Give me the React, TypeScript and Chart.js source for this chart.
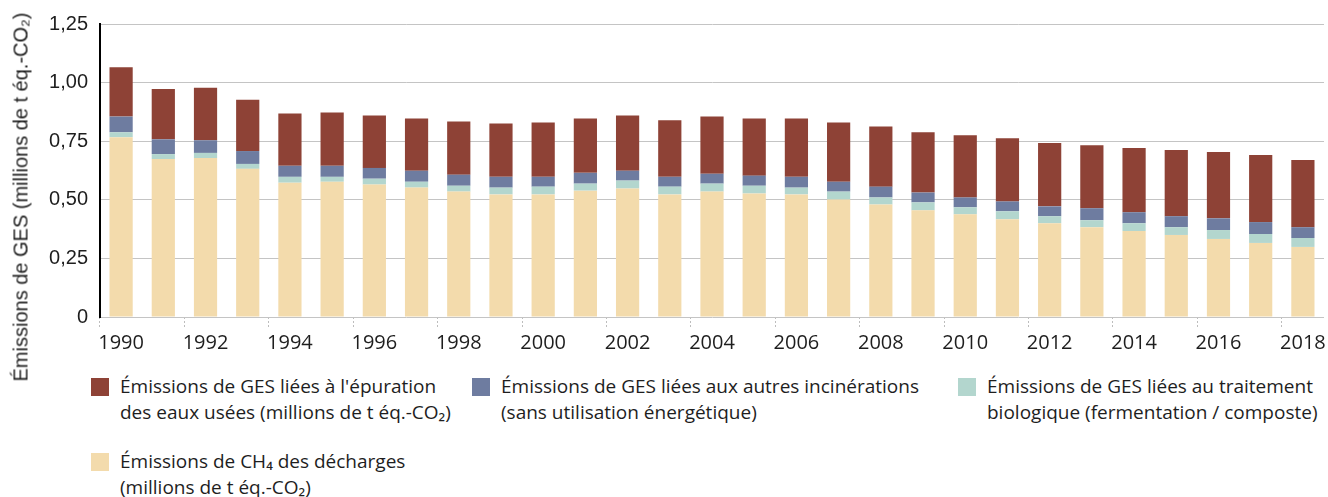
import React, { useEffect, useRef } from "react";
import { Chart, registerables } from "chart.js";

Chart.register(...registerables);

const years = [
  "1990", "1991", "1992", "1993", "1994", "1995", "1996", "1997", "1998", "1999",
  "2000", "2001", "2002", "2003", "2004", "2005", "2006", "2007", "2008", "2009",
  "2010", "2011", "2012", "2013", "2014", "2015", "2016", "2017", "2018",
];

// Émissions de CH4 des décharges
const landfillCH4 = [
  0.767, 0.674, 0.678, 0.632, 0.573, 0.577, 0.565, 0.552, 0.535, 0.523,
  0.523, 0.539, 0.548, 0.523, 0.535, 0.527, 0.523, 0.501, 0.480, 0.455,
  0.438, 0.417, 0.400, 0.383, 0.367, 0.350, 0.333, 0.316, 0.299,
];
// traitement biologique
const biological = [
  0.021, 0.021, 0.022, 0.021, 0.025, 0.021, 0.025, 0.025, 0.025, 0.029,
  0.033, 0.030, 0.034, 0.033, 0.034, 0.033, 0.029, 0.034, 0.030, 0.034,
  0.030, 0.034, 0.030, 0.030, 0.033, 0.033, 0.038, 0.038, 0.038,
];
// autres incinérations
const incineration = [
  0.067, 0.063, 0.054, 0.055, 0.047, 0.047, 0.046, 0.047, 0.047, 0.046,
  0.042, 0.046, 0.042, 0.042, 0.042, 0.043, 0.046, 0.042, 0.046, 0.042,
  0.042, 0.042, 0.042, 0.051, 0.047, 0.047, 0.050, 0.051, 0.046,
];
// épuration des eaux usées
const wastewater = [
  0.211, 0.215, 0.224, 0.219, 0.223, 0.227, 0.224, 0.223, 0.227, 0.228,
  0.232, 0.232, 0.236, 0.241, 0.244, 0.244, 0.249, 0.253, 0.257, 0.257,
  0.265, 0.270, 0.270, 0.269, 0.274, 0.282, 0.283, 0.286, 0.287,
];

const yTicks = [0, 0.25, 0.5, 0.75, 1.0, 1.25];

const colors = {
  wastewater: "#8e4236",
  incineration: "#6e7ca0",
  biological: "#b3d6ce",
  landfill: "#f3dbac",
};

const yTitle = "Émissions de GES (millions de t éq.-CO₂)";

const legendItems = [
  { color: colors.wastewater, lines: ["Émissions de GES liées à l'épuration", "des eaux usées (millions de t éq.-CO₂)"] },
  { color: colors.incineration, lines: ["Émissions de GES liées aux autres incinérations", "(sans utilisation énergétique)"] },
  { color: colors.biological, lines: ["Émissions de GES liées au traitement", "biologique (fermentation / composte)"] },
  { color: colors.landfill, lines: ["Émissions de CH₄ des décharges", "(millions de t éq.-CO₂)"] },
];
const legendWidths = [381, 486, 370, 400];

const TICK_FONT = "'Open Sans', 'Noto Sans', sans-serif";
const AXIS_FONT = "'Liberation Sans', Arial, sans-serif";

export default function App() {
  const ref = useRef<HTMLCanvasElement | null>(null);

  useEffect(() => {
    if (!ref.current) return;
    const chart = new Chart(ref.current, {
      type: "bar",
      data: {
        labels: years,
        datasets: [
          { label: "Émissions de CH₄ des décharges", data: landfillCH4, backgroundColor: colors.landfill },
          { label: "Traitement biologique", data: biological, backgroundColor: colors.biological },
          { label: "Autres incinérations", data: incineration, backgroundColor: colors.incineration },
          { label: "Épuration des eaux usées", data: wastewater, backgroundColor: colors.wastewater },
        ],
      },
      options: {
        responsive: false,
        animation: false,
        devicePixelRatio: 1,
        layout: { padding: { top: 20, right: 4, left: 0, bottom: 0 } },
        plugins: { legend: { display: false }, tooltip: { enabled: false } },
        datasets: { bar: { categoryPercentage: 1, barPercentage: 0.55 } },
        scales: {
          x: {
            stacked: true,
            border: { display: false },
            grid: {
              drawOnChartArea: false,
              drawTicks: true,
              tickLength: 12,
              tickColor: (ctx: any) => (ctx.index % 2 === 0 ? "#bdbdbd" : "rgba(0,0,0,0)"),
              tickBorderDash: [2, 2],
            } as any,
            ticks: {
              autoSkip: false,
              maxRotation: 0,
              padding: 2,
              color: "#1e1e1e",
              font: { family: TICK_FONT, size: 20 },
              callback: (v: any, i: number) => (i % 2 === 0 ? years[i] : ""),
            },
            afterFit: (s: any) => {
              s.height = 43;
            },
          },
          y: {
            stacked: true,
            min: 0,
            max: 1.25,
            border: { display: true, color: "#000", width: 2 },
            grid: {
              color: "#c4c4c4",
              lineWidth: 1,
              drawTicks: false,
              borderDash: [1, 2],
            } as any,
            afterBuildTicks: (s: any) => {
              s.ticks = yTicks.map((v) => ({ value: v }));
            },
            ticks: {
              padding: 12,
              color: "#1e1e1e",
              font: { family: AXIS_FONT, size: 20 },
              callback: (v: any) => (Number(v) === 0 ? "0" : Number(v).toFixed(2).replace(".", ",")),
            },
            afterFit: (s: any) => {
              s.width = 100;
            },
          },
        },
      },
    });
    return () => chart.destroy();
  }, []);

  return (
    <div style={{ position: "absolute", left: 0, top: 0, width: 1328, height: 497, background: "#fff", overflow: "hidden" }}>
      <canvas ref={ref} width={1328} height={360} style={{ position: "absolute", left: 0, top: 0 }} />
      <div
        style={{
          position: "absolute",
          left: 21,
          top: 197,
          transform: "translate(-50%, -50%) rotate(-90deg)",
          whiteSpace: "nowrap",
          fontFamily: AXIS_FONT,
          fontSize: 20,
          color: "#1e1e1e",
        }}
      >
        {yTitle}
      </div>
      <div
        style={{
          position: "absolute",
          left: 91,
          top: 374,
          width: 1237,
          display: "flex",
          flexWrap: "wrap",
          rowGap: 24,
          fontFamily: TICK_FONT,
          fontSize: 19,
          lineHeight: "25.5px",
          color: "#1e1e1e",
        }}
      >
        {legendItems.map((it, i) => (
          <div key={i} style={{ display: "flex", alignItems: "flex-start", width: legendWidths[i], boxSizing: "border-box" }}>
            <span style={{ display: "inline-block", width: 18, height: 18, marginTop: 4, marginRight: 11, background: it.color, flex: "0 0 auto" }} />
            <div style={{ whiteSpace: "nowrap" }}>
              {it.lines.map((l, j) => (
                <div key={j}>{l}</div>
              ))}
            </div>
          </div>
        ))}
      </div>
    </div>
  );
}
